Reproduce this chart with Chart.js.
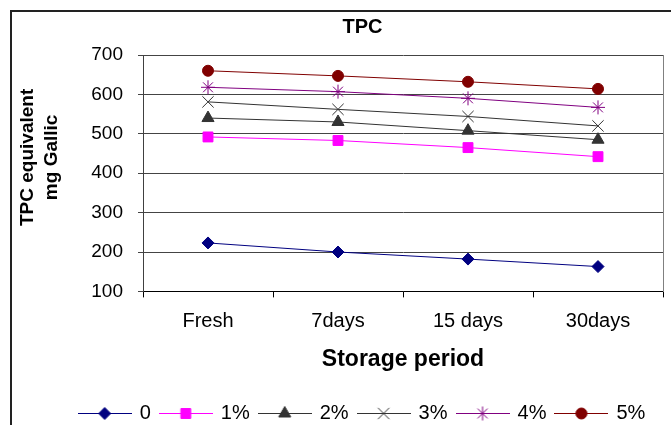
<!DOCTYPE html>
<html>
<head>
<meta charset="utf-8">
<title>TPC</title>
<script src="https://cdn.jsdelivr.net/npm/chart.js@4.4.1/dist/chart.umd.min.js"></script>
<style>
    html, body { margin: 0; padding: 0; overflow: hidden; background: #fff; width: 671px; height: 425px; }
    #chartBox { position: absolute; left: 0; top: 0; }
    #frame { position: absolute; left: 10px; top: 10px; width: 800px; height: 500px; border: 2px solid #222; pointer-events: none; }
</style>
</head>
<body>
<div id="chartBox"><canvas id="tpcChart" width="725" height="440"></canvas></div>
<div id="frame"></div>
<script>
// Data
const periods = ['Fresh', '7days', '15 days', '30days'];
const seriesNames = ['0', '1%', '2%', '3%', '4%', '5%'];
const tpc0 = [223, 200, 182, 163];
const tpc1 = [492, 483, 465, 442];
const tpc2 = [540, 530, 508, 485];
const tpc3 = [581, 562, 544, 520];
const tpc4 = [618, 607, 590, 567];
const tpc5 = [660, 647, 632, 614];
const yTickValues = [100, 200, 300, 400, 500, 600, 700];

// Look of each series (colour, marker)
const styles = [
    { color: '#000080', fill: '#000080', point: 'rectRot', radius: 6 },
    { color: '#FF00FF', fill: '#FF00FF', point: 'rect', radius: 7 },
    { color: '#333333', fill: '#333333', point: 'triangle', radius: 7 },
    { color: '#333333', fill: '#333333', point: 'crossRot', radius: 8 },
    { color: '#800080', fill: '#800080', point: 'star', radius: 7 },
    { color: '#800000', fill: '#800000', point: 'circle', radius: 5.5 },
];

const allValues = [tpc0, tpc1, tpc2, tpc3, tpc4, tpc5];

Chart.defaults.font.family = '"Liberation Sans", Arial, sans-serif';
Chart.defaults.color = '#000';

// legend sample: short line with the marker in the middle
function legendSample(st) {
    const c = document.createElement('canvas');
    c.width = 54;
    c.height = 20;
    const g = c.getContext('2d');
    g.strokeStyle = st.color;
    g.lineWidth = 1;
    g.beginPath();
    g.moveTo(0, 10.5);
    g.lineTo(54, 10.5);
    g.stroke();
    g.fillStyle = st.fill;
    g.strokeStyle = st.color;
    Chart.helpers.drawPoint(g, { pointStyle: st.point, radius: st.radius, borderWidth: 1, rotation: 0 }, 27, 10.5);
    return c;
}

const datasets = allValues.map((vals, i) => ({
    label: seriesNames[i],
    data: vals,
    borderColor: styles[i].color,
    backgroundColor: styles[i].fill,
    borderWidth: 1,
    pointStyle: styles[i].point,
    pointRadius: styles[i].radius,
    pointBackgroundColor: styles[i].fill,
    pointBorderColor: styles[i].color,
    pointBorderWidth: 1,
    tension: 0,
}));

const ctx = document.getElementById('tpcChart').getContext('2d');
const tpcChart = new Chart(ctx, {
    type: 'line',
    data: { labels: periods, datasets: datasets },
    options: {
        responsive: false,
        animation: false,
        events: [],
        layout: { padding: { left: 0, right: 0, top: 0, bottom: 7 } },
        plugins: {
            title: {
                display: true,
                text: 'TPC',
                font: { size: 20, weight: 'bold' },
                color: '#000',
                padding: { top: 15, bottom: 16 },
            },
            legend: {
                position: 'bottom',
                labels: {
                    usePointStyle: true,
                    pointStyleWidth: 50,
                    boxHeight: 20,
                    padding: 10,
                    font: { size: 20 },
                    color: '#000',
                    generateLabels: (chart) => chart.data.datasets.map((ds, i) => ({
                        text: ds.label,
                        pointStyle: legendSample(styles[i]),
                        fillStyle: styles[i].fill,
                        strokeStyle: styles[i].color,
                        lineWidth: 0,
                        hidden: false,
                        datasetIndex: i,
                    })),
                },
            },
            tooltip: { enabled: false },
        },
        scales: {
            x: {
                offset: true,
                grid: { offset: true, drawOnChartArea: false, drawTicks: true, tickLength: 6, color: '#000' },
                border: { display: true, color: '#000', width: 1 },
                ticks: { font: { size: 20 }, padding: 12, color: '#000' },
                title: {
                    display: true,
                    text: 'Storage period',
                    font: { size: 23, weight: 'bold' },
                    color: '#000',
                    padding: { top: 0, bottom: 20 },
                },
            },
            y: {
                min: yTickValues[0],
                max: yTickValues[yTickValues.length - 1],
                afterBuildTicks: (scale) => { scale.ticks = yTickValues.map(v => ({ value: v })); },
                grid: { color: '#444', tickLength: 5, drawTicks: true },
                border: { display: true, color: '#404040', width: 1 },
                ticks: { font: { size: 19 }, padding: 15, color: '#000' },
                title: {
                    display: true,
                    text: ['      TPC equivalent', '      mg Gallic'],
                    font: { size: 19, weight: 'bold', lineHeight: 1.3 },
                    color: '#000',
                    padding: { top: 15, bottom: 0 },
                },
                afterFit: (scale) => { scale.width = 143; },
            },
            yRight: {
                position: 'right',
                display: true,
                grid: { display: false, drawTicks: false },
                ticks: { display: false },
                border: { display: true, color: '#808080', width: 1 },
                afterFit: (scale) => { scale.width = 62; },
            },
        },
    },
});
</script>
</body>
</html>
